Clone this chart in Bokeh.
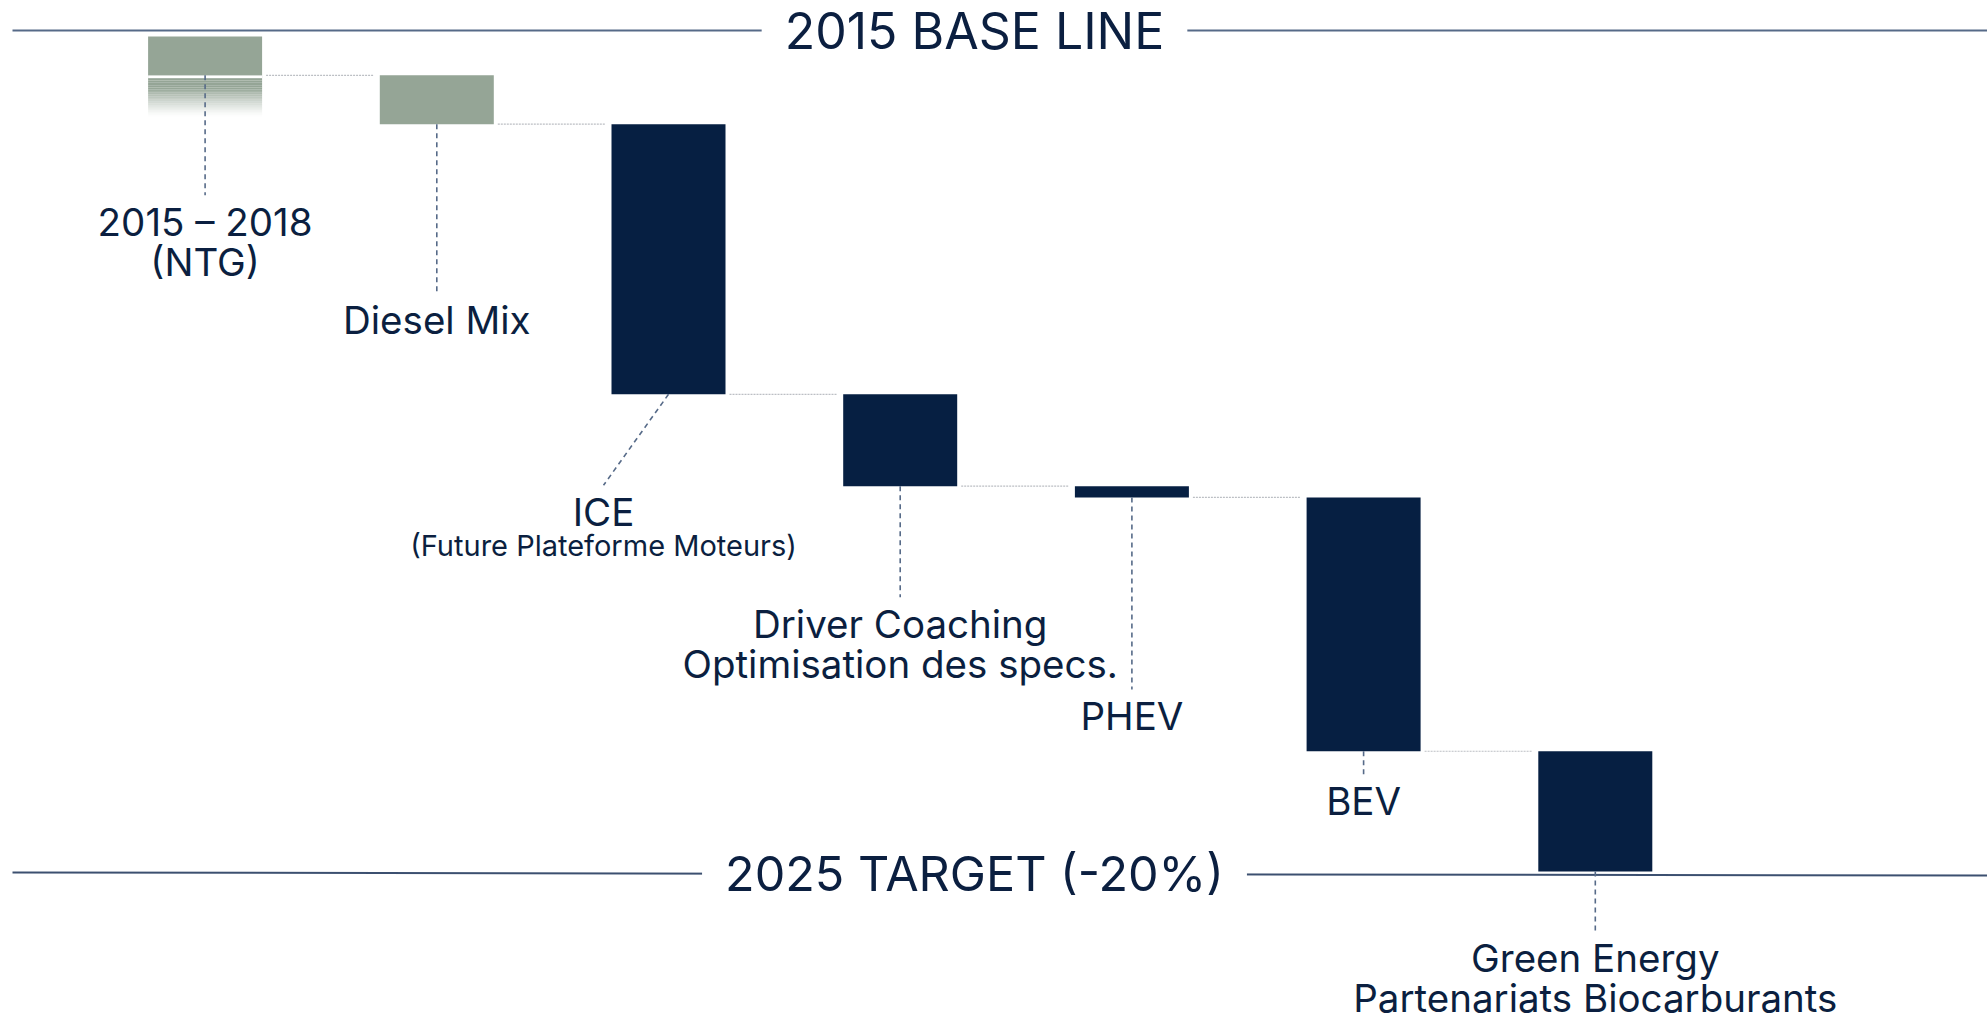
import numpy as np
from bokeh.plotting import figure
from bokeh.models import Label, ColumnDataSource
from bokeh.embed import file_html
from bokeh.resources import INLINE

# ---------------- data ----------------
categories = ["2015 – 2018", "Diesel Mix", "ICE", "Driver Coaching", "PHEV", "BEV", "Green Energy"]
label_lines = [
    ["2015 – 2018", "(NTG)"],
    ["Diesel Mix"],
    ["ICE", "(Future Plateforme Moteurs)"],
    ["Driver Coaching", "Optimisation des specs."],
    ["PHEV"],
    ["BEV"],
    ["Green Energy", "Partenariats Biocarburants"],
]
start_value = 100.0            # 2015 base line (index)
target_value = 80.0            # 2025 target (-20%)
deltas = [-0.93, -1.17, -6.47, -2.20, -0.27, -6.08, -2.88]
ntg_projection = -1.00         # faded continuation of the 2015-2018 bar
title_top = "2015 BASE LINE"
title_bottom = "2025 TARGET (-20%)"

# ---------------- styling / layout ----------------
W, H = 1987, 1019
PX_PER_UNIT_Y = 41.75
PX_PER_UNIT_X = 231.7
y_top = start_value + 36 / PX_PER_UNIT_Y
y_range = (y_top - H / PX_PER_UNIT_Y, y_top)
x_left = -204.6 / PX_PER_UNIT_X
x_right = x_left + W / PX_PER_UNIT_X
x_range = (x_left, x_right)

def px_y(p):
    return p / PX_PER_UNIT_Y

def px_x(p):
    return p / PX_PER_UNIT_X

NAVY = "#061f42"
SAGE = "#95a596"
TEXT = "#0b1f40"
SLATE = "#566a88"
FONT = "Inter"

p = figure(width=W, height=H, x_range=x_range, y_range=y_range,
           output_backend="svg", toolbar_location=None,
           min_border=0, min_border_left=0, min_border_right=0,
           min_border_top=0, min_border_bottom=0)
p.axis.visible = False
p.grid.visible = False
p.outline_line_color = None
p.background_fill_color = "white"
p.border_fill_color = "white"

xs = np.arange(len(categories), dtype=float)
ends = start_value + np.cumsum(deltas)
tops = np.concatenate([[start_value], ends[:-1]])
BW = px_x(114)
colors = [SAGE, SAGE] + [NAVY] * (len(categories) - 2)

# reference lines
top_line = start_value + px_y(6)
bottom_line = target_value - px_y(2)
line_x0 = x_left + px_x(12)
p.segment(x0=[line_x0], x1=[x_right], y0=[top_line], y1=[top_line], line_color=SLATE, line_width=2)
p.segment(x0=[line_x0], x1=[x_right], y0=[bottom_line + px_y(1)], y1=[bottom_line - px_y(2)],
          line_color="#3c5070", line_width=2)

# faded projection under the first bar
n = 24
g0 = ends[0]
g1 = ends[0] + ntg_projection
edges = np.linspace(g0, g1, n + 1)
fr = (np.arange(n) + 0.5) / n
alphas = np.where(fr < 0.3, 1.0, np.clip(1 - (fr - 0.3) / 0.7, 0, 1) ** 1.3)
p.quad(left=xs[0] - BW / 2, right=xs[0] + BW / 2, top=edges[:-1], bottom=edges[1:],
       fill_color=SAGE, fill_alpha=alphas, line_color=None)

# bars
src = ColumnDataSource(dict(left=xs - BW / 2, right=xs + BW / 2, top=tops, bottom=ends, color=colors))
p.quad(left="left", right="right", top="top", bottom="bottom", fill_color="color",
       line_color=None, source=src)
# white separator on first bar
p.segment(x0=[xs[0] - BW / 2], x1=[xs[0] + BW / 2], y0=[ends[0] - px_y(1.5)], y1=[ends[0] - px_y(1.5)],
          line_color="white", line_width=2.5)

# dotted connectors
p.segment(x0=xs[:-1] + BW / 2 + px_x(4), x1=xs[1:] - BW / 2 - px_x(6),
          y0=ends[:-1], y1=ends[:-1], line_color="#bcbfc4", line_width=1.2, line_dash="2 1")

# dashed leaders (pixel lengths)
leader_len = [120, 169, 91, 111, 192, 23, 59]
leader_dx = [0, 0, -65, 0, 0, 0, 0]
lx0 = xs.copy()
lx1 = xs + np.array([px_x(d) for d in leader_dx])
ly0 = ends.copy()
ly1 = ends - np.array([px_y(l) for l in leader_len])
p.segment(x0=lx0, x1=lx1, y0=ly0, y1=ly1, line_color=SLATE, line_width=1.6, line_dash="5 4")

# labels
tx, ty, tt, toff, tsize = [], [], [], [], []
for i, lines in enumerate(label_lines):
    for j, line in enumerate(lines):
        tx.append(lx1[i]); ty.append(ly1[i]); tt.append(line)
        if i == 2 and j == 1:
            toff.append(60); tsize.append("29px")
        else:
            toff.append(27 + 40 * j); tsize.append("38.5px")
lsrc = ColumnDataSource(dict(x=tx, y=ty, text=tt, off=toff, size=tsize))
p.text(x="x", y="y", text="text", y_offset="off", text_font_size="size", source=lsrc,
       text_align="center", text_baseline="alphabetic", text_color=TEXT,
       text_font={"value": FONT})

# titles with white background interrupting the lines
title_x = x_left + px_x(974)
for txt, lvl, fs in [(title_top, top_line, "50px"), (title_bottom, bottom_line, "48.5px")]:
    p.add_layout(Label(x=title_x, y=lvl, text=txt, text_align="center", text_baseline="middle",
                       text_font=FONT, text_font_size=fs, text_color=TEXT,
                       background_fill_color="white", padding=23))

open("out.html", "w").write(file_html(p, INLINE))
